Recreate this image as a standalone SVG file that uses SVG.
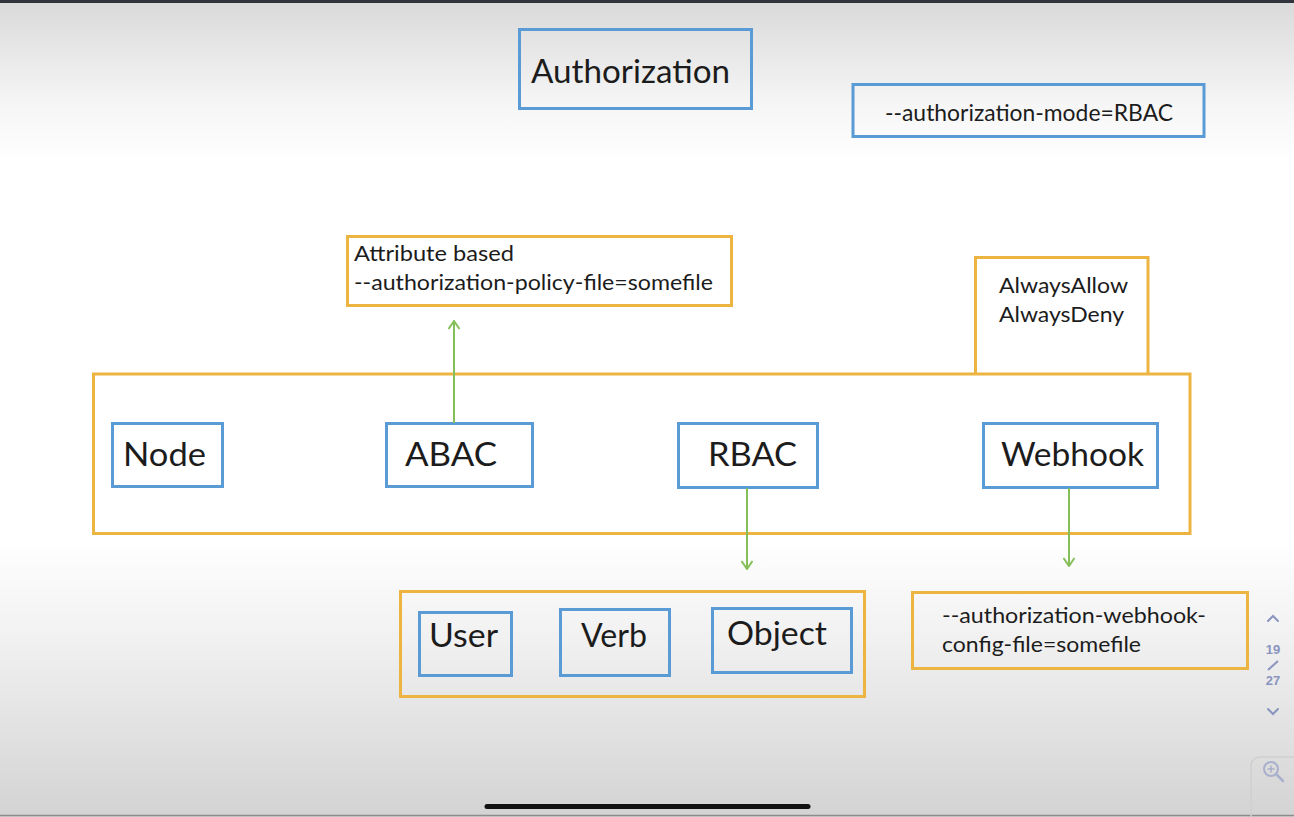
<svg xmlns="http://www.w3.org/2000/svg" width="1294" height="817" viewBox="0 0 1294 817">
<defs>
<linearGradient id="bg" x1="0" y1="0" x2="0" y2="1">
<stop offset="0" stop-color="#d9d9d9"/>
<stop offset="0.13" stop-color="#f6f6f6"/>
<stop offset="0.2" stop-color="#ffffff"/>
<stop offset="0.66" stop-color="#ffffff"/>
<stop offset="0.78" stop-color="#f1f1f1"/>
<stop offset="1" stop-color="#d3d3d3"/>
</linearGradient>
<marker id="arr" viewBox="0 0 12 12" refX="11" refY="6" markerWidth="12" markerHeight="12" orient="auto" markerUnits="userSpaceOnUse">
<path d="M3,0.5 L11,6 L3,11.5" fill="none" stroke="#86bf5a" stroke-width="2"/>
</marker>
<style>
.blue{fill:none;stroke:#5b9bd5;stroke-width:3}
.orange{fill:none;stroke:#ecb440;stroke-width:3}
.lbl{font-family:Lato,"Open Sans","Liberation Sans",sans-serif;fill:#1c1c1c}
.conn{fill:none;stroke:#86bf5a;stroke-width:2}
.nav{font-family:"Liberation Sans",Arial,sans-serif;fill:#8a94bf;font-weight:bold;font-size:13px;text-anchor:middle}
</style>
</defs>
<rect x="0" y="0" width="1294" height="817" fill="url(#bg)"/>
<rect x="0" y="0" width="1294" height="3" fill="#30333c"/>
<line x1="0" y1="815.5" x2="1294" y2="815.5" stroke="#8c8c8c" stroke-width="1.5"/>

<g id="authorization">
<rect class="blue" x="519.5" y="29.5" width="232" height="79"/>
<text class="lbl" x="531" y="83" font-size="33" textLength="199" lengthAdjust="spacingAndGlyphs">Authorization</text>
</g>
<g id="mode">
<rect class="blue" x="853" y="84.5" width="351" height="52"/>
<text class="lbl" x="885" y="121" font-size="24" textLength="288" lengthAdjust="spacingAndGlyphs">--authorization-mode=RBAC</text>
</g>
<g id="attribute">
<rect class="orange" x="347.5" y="236.5" width="384" height="69"/>
<text class="lbl" x="354" y="261" font-size="21" textLength="160" lengthAdjust="spacingAndGlyphs">Attribute based</text>
<text class="lbl" x="354" y="290" font-size="21" textLength="359" lengthAdjust="spacingAndGlyphs">--authorization-policy-file=somefile</text>
</g>
<g id="always">
<path class="orange" d="M975.5,373 L975.5,257.5 L1148,257.5 L1148,373"/>
<text class="lbl" x="999" y="293" font-size="22" textLength="129" lengthAdjust="spacingAndGlyphs">AlwaysAllow</text>
<text class="lbl" x="999" y="322" font-size="22" textLength="125" lengthAdjust="spacingAndGlyphs">AlwaysDeny</text>
</g>
<g id="modes">
<rect class="orange" x="93.5" y="374" width="1096.5" height="159.5"/>
</g>
<g id="node">
<rect class="blue" x="112.5" y="423.5" width="110" height="63"/>
<text class="lbl" x="123" y="466" font-size="32" textLength="83" lengthAdjust="spacingAndGlyphs">Node</text>
</g>
<g id="abac">
<rect class="blue" x="386.5" y="423.5" width="146" height="63"/>
<text class="lbl" x="405" y="466" font-size="32" textLength="92" lengthAdjust="spacingAndGlyphs">ABAC</text>
</g>
<g id="rbac">
<rect class="blue" x="678.5" y="423.5" width="139" height="64"/>
<text class="lbl" x="708" y="466" font-size="32" textLength="89" lengthAdjust="spacingAndGlyphs">RBAC</text>
</g>
<g id="webhook">
<rect class="blue" x="983.5" y="423.5" width="174" height="64"/>
<text class="lbl" x="1001" y="466" font-size="32" textLength="143" lengthAdjust="spacingAndGlyphs">Webhook</text>
</g>
<g id="uvo">
<rect class="orange" x="400.5" y="591.5" width="464" height="105"/>
</g>
<g id="user">
<rect class="blue" x="419.5" y="612.5" width="92" height="63"/>
<text class="lbl" x="429" y="647" font-size="32" textLength="69" lengthAdjust="spacingAndGlyphs">User</text>
</g>
<g id="verb">
<rect class="blue" x="560.5" y="609.5" width="109" height="66"/>
<text class="lbl" x="581" y="647" font-size="32" textLength="66" lengthAdjust="spacingAndGlyphs">Verb</text>
</g>
<g id="object">
<rect class="blue" x="712.5" y="608.5" width="139" height="64"/>
<text class="lbl" x="727" y="645" font-size="32" textLength="100" lengthAdjust="spacingAndGlyphs">Object</text>
</g>
<g id="webhookconfig">
<rect class="orange" x="912.5" y="592.5" width="335" height="76"/>
<text class="lbl" x="942" y="623" font-size="22" textLength="264" lengthAdjust="spacingAndGlyphs">--authorization-webhook-</text>
<text class="lbl" x="942" y="652" font-size="22" textLength="199" lengthAdjust="spacingAndGlyphs">config-file=somefile</text>
</g>
<g id="connectors">
<path class="conn" d="M454,423 L454,321" marker-end="url(#arr)"/>
<path class="conn" d="M747,488 L747,569" marker-end="url(#arr)"/>
<path class="conn" d="M1069,488 L1069,566" marker-end="url(#arr)"/>
</g>

<g id="viewer-ui">
<path d="M1268,621 L1273,616 L1278,621" fill="none" stroke="#8a94bf" stroke-width="2" stroke-linecap="round"/>
<text class="nav" x="1273" y="654">19</text>
<line x1="1268" y1="670" x2="1278" y2="661" stroke="#8a94bf" stroke-width="2"/>
<text class="nav" x="1273" y="685">27</text>
<path d="M1268,709 L1273,714 L1278,709" fill="none" stroke="#8a94bf" stroke-width="2" stroke-linecap="round"/>
<path d="M1251,817 L1251,767 Q1251,757 1261,757 L1294,757" fill="none" stroke="#cfcfd4" stroke-width="1.5"/>
<circle cx="1271" cy="769" r="7" fill="none" stroke="#a9b0cc" stroke-width="2"/>
<line x1="1276" y1="774" x2="1283" y2="781" stroke="#a9b0cc" stroke-width="2.5" stroke-linecap="round"/>
<path d="M1267.5,769 L1274.5,769 M1271,765.5 L1271,772.5" stroke="#a9b0cc" stroke-width="1.5"/>
<line x1="487" y1="806.5" x2="808" y2="806.5" stroke="#111111" stroke-width="5" stroke-linecap="round"/>
</g>
</svg>
